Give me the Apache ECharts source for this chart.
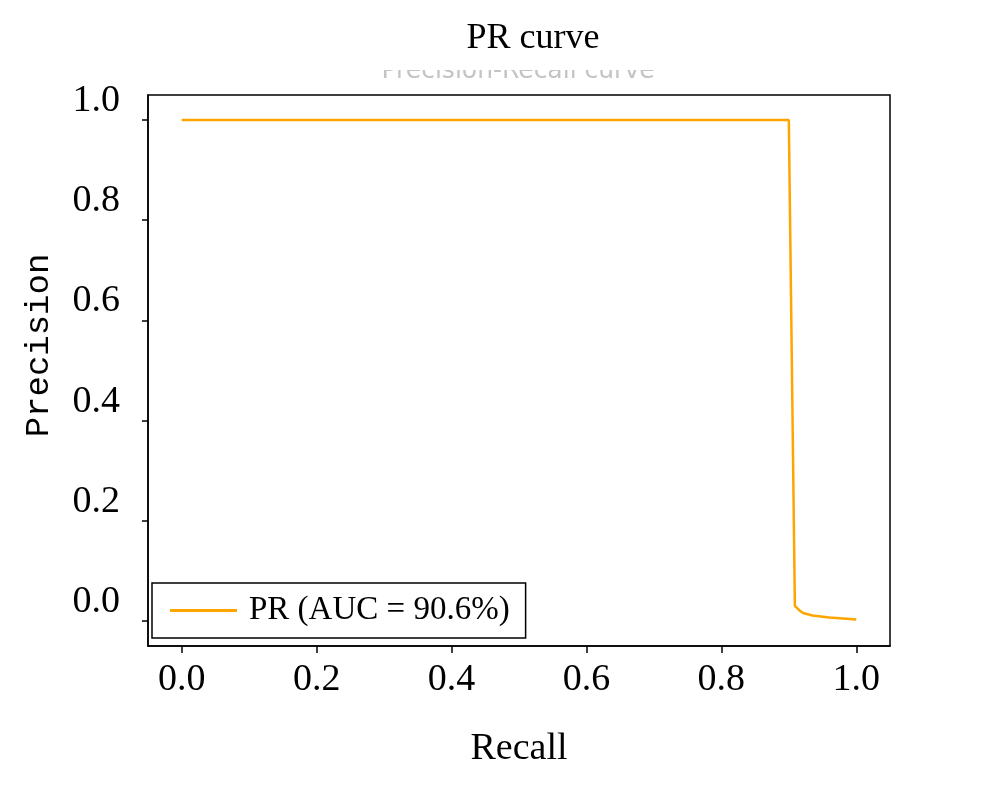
<!DOCTYPE html>
<html>
<head>
<meta charset="utf-8">
<script src="https://cdn.jsdelivr.net/npm/echarts@6/dist/echarts.min.js"></script>
<style>
html, body { margin: 0; padding: 0; background: #fff; }
#chart { width: 987px; height: 795px; }
</style>
</head>
<body>
<div id="chart"></div>
<script>
// PR 曲线数据
var recall = [0, 0.9, 0.909, 0.915, 0.921, 0.935, 0.96, 1.0];
var precision = [1.0, 1.0, 0.03, 0.022, 0.016, 0.011, 0.007, 0.003];
var tickValues = [0, 0.2, 0.4, 0.6, 0.8, 1.0];
var seriesName = 'PR (AUC = 90.6%)';

var serif = '"Liberation Serif", "DejaVu Serif", serif';

var points = [];
for (var i = 0; i < recall.length; i++) {
    points.push([recall[i], precision[i]]);
}

var chart = echarts.init(document.getElementById('chart'));
chart.setOption({
    backgroundColor: '#fff',
    animation: false,
    title: {
        text: 'PR curve',
        left: 528,
        textAlign: 'center',
        top: 16,
        textStyle: { fontFamily: serif, fontSize: 36, fontWeight: 'normal', color: '#000' }
    },
    graphic: [{
        // 被遮住一半的副标题
        type: 'text',
        x: 518,
        y: 84,
        z: 1,
        style: {
            text: 'Precision-Recall curve',
            textAlign: 'center',
            textVerticalAlign: 'bottom',
            font: '25px "DejaVu Sans", sans-serif',
            fill: '#c4c4c4'
        }
    }, {
        type: 'rect',
        z: 2,
        shape: { x: 330, y: 54, width: 380, height: 16 },
        style: { fill: '#fff' }
    }],
    legend: {
        data: [seriesName],
        left: 152,
        top: 583,
        padding: [11, 16, 11, 18],
        itemWidth: 67,
        itemHeight: 3,
        icon: 'rect',
        borderColor: '#000',
        borderWidth: 1.5,
        borderRadius: 0,
        backgroundColor: '#fff',
        textStyle: { fontFamily: serif, fontSize: 33, color: '#000', padding: [0, 0, 0, 7] }
    },
    grid: {
        left: 148,
        right: 97,
        top: 95,
        bottom: 149,
        show: true,
        borderColor: '#000',
        borderWidth: 1.5
    },
    xAxis: {
        type: 'value',
        min: -0.05,
        max: 1.05,
        name: 'Recall',
        nameLocation: 'middle',
        nameGap: 84,
        nameTextStyle: { fontFamily: serif, fontSize: 38, color: '#000' },
        splitLine: { show: false },
        axisLine: { show: true, onZero: false, lineStyle: { color: '#000', width: 1.5 } },
        axisTick: { show: true, length: 7, customValues: tickValues, lineStyle: { color: '#000', width: 1.5 } },
        axisLabel: {
            customValues: tickValues,
            margin: 15,
            fontFamily: serif,
            fontSize: 38,
            color: '#000',
            formatter: function (v) { return v.toFixed(1); }
        }
    },
    yAxis: {
        type: 'value',
        min: -0.05,
        max: 1.05,
        name: 'Precision',
        nameLocation: 'middle',
        nameGap: 92,
        nameRotate: 90,
        nameTextStyle: { fontFamily: '"Liberation Mono", monospace', fontSize: 34, color: '#000', padding: [0, 0, 0, 50] },
        splitLine: { show: false },
        axisLine: { show: true, onZero: false, lineStyle: { color: '#000', width: 1.5 } },
        axisTick: { show: true, length: 6, customValues: tickValues, lineStyle: { color: '#000', width: 1.5 } },
        axisLabel: {
            customValues: tickValues,
            margin: 28,
            verticalAlign: 'bottom',
            fontFamily: serif,
            fontSize: 38,
            color: '#000',
            formatter: function (v) { return v.toFixed(1); }
        }
    },
    series: [{
        name: seriesName,
        type: 'line',
        data: points,
        showSymbol: false,
        symbol: 'none',
        color: '#FFA500',
        lineStyle: { color: '#FFA500', width: 2.5 }
    }]
});
</script>
</body>
</html>
